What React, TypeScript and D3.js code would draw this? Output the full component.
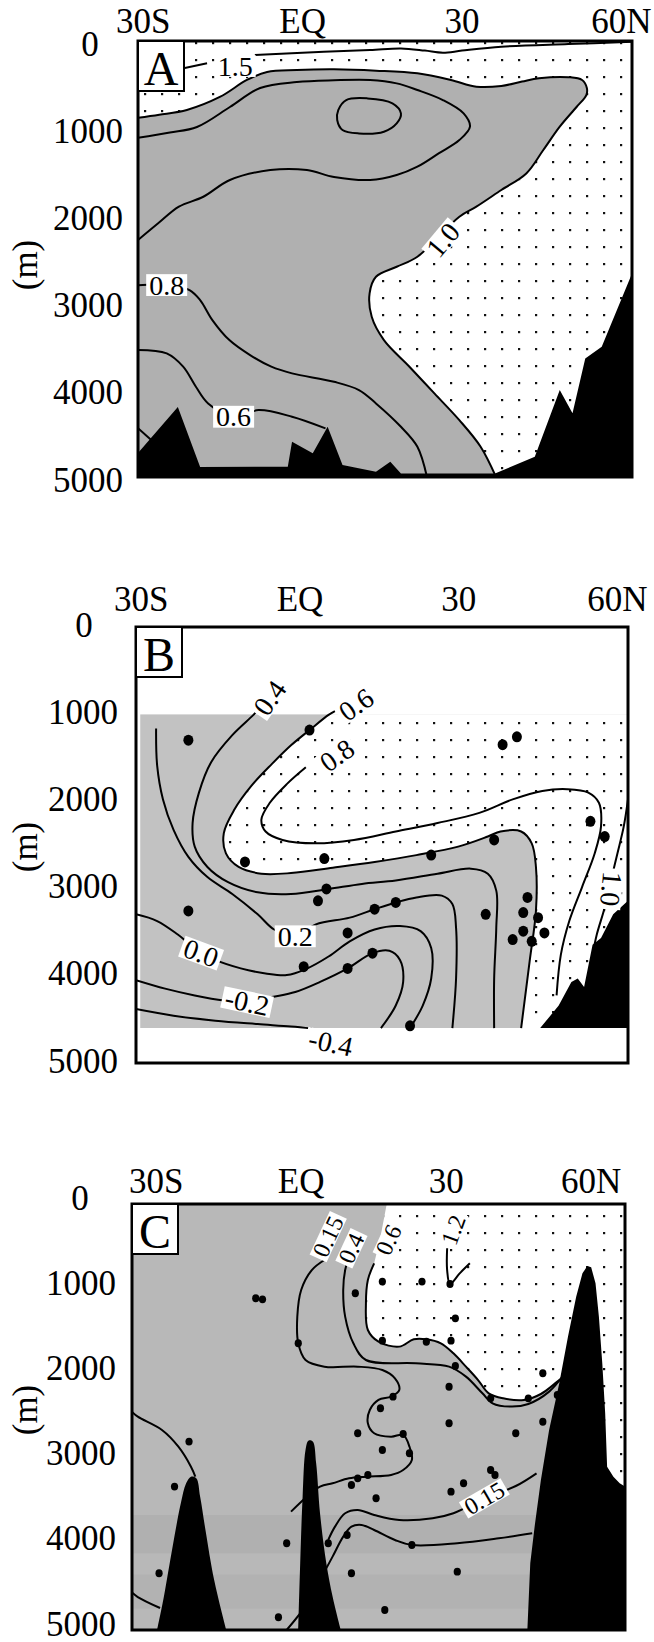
import React from "react";
import * as d3 from "d3";

type Pt = [number, number]; // [latitude (deg, south negative), depth (m)]
type Lab = { text: string; lat: number; depth: number; rot: number };

const FONT = "'Liberation Serif', 'Times New Roman', Times, serif";

// shared axes
const latTicks = [-30, 0, 30, 60];
const latTickLabels = ["30S", "EQ", "30", "60N"];
const depthTicks = [0, 1000, 2000, 3000, 4000, 5000];

// ---------------- panel A
const aIso15a: Pt[] = [[-22.2, 310], [-18, 255]];
const aIso15b: Pt[] = [[-9, 161], [3, 125], [12.7, 103], [18.5, 85], [23, 110], [26.4, 135], [30, 110], [37.4, 66], [50, 35], [62, 10]];
const aIso10: Pt[] = [
  [-31, 880], [-27, 845], [-21.8, 791], [-15.6, 642], [-10.5, 447], [-6.7, 355], [-1.1, 333], [5.9, 325],
  [13.8, 340], [21.6, 371], [27.9, 447], [32.7, 524], [37.4, 516], [41.3, 465], [44.5, 427], [50, 415],
  [52.6, 447], [53.5, 539], [53.4, 620], [51.6, 754], [48.4, 982], [45.3, 1250], [42.1, 1519], [37.4, 1709],
  [32.7, 1900], [29.5, 2015], [21.6, 2474], [17.7, 2589], [13.8, 2704], [12.6, 2894], [13, 3163], [15.3, 3430],
  [20.1, 3735], [24.8, 4041], [29.5, 4348], [33.5, 4653], [36.4, 5000],
];
const aIso09: Pt[] = [
  [-31, 1110], [-25, 1050], [-19.9, 986], [-13.7, 757], [-8, 539], [-1.1, 470], [5.9, 450], [12.7, 447],
  [17.7, 486], [21.6, 562], [26.4, 677], [30.3, 830], [31.5, 982], [29.5, 1136], [25.6, 1289], [21.6, 1441],
  [17.7, 1537], [12.7, 1594], [5.9, 1560], [0.8, 1480], [-6.1, 1480], [-13.7, 1594], [-18.7, 1786],
  [-23.3, 1900], [-27.2, 2091], [-31, 2283],
];
const aCore: Pt[] = [
  [6.7, 792], [8.2, 677], [12.2, 658], [16.9, 715], [18.5, 830], [17.7, 945], [15.3, 1040], [10.6, 1060], [7.5, 1021], [6.5, 906],
];
const aIso08: Pt[] = [
  [-31, 2800], [-25.6, 2799], [-21.3, 2856], [-19.3, 2971], [-17, 3200], [-13.8, 3430], [-9.9, 3602], [-5.9, 3735],
  [-2, 3812], [5.9, 3908], [10.6, 4003], [13.8, 4156], [18.5, 4424], [21.6, 4653], [23.4, 5000],
];
const aIso06: Pt[] = [
  [-31, 3544], [-25.6, 3583], [-22.5, 3735], [-20.1, 3965], [-17.8, 4156], [-13, 4309], [-8.3, 4233], [-2, 4309], [4.3, 4443],
];
const aIso06b: Pt[] = [[-31, 4440], [-28.4, 4580]];
const aBottom: Pt[] = [
  [-31, 4726], [-23.5, 4198], [-19.3, 4886], [-2.8, 4882], [-2, 4595], [1.9, 4729], [4.7, 4424], [7.5, 4863],
  [13.8, 4939], [16.5, 4825], [18.5, 4959], [36.2, 4959], [43.7, 4768], [48.4, 4003], [50.8, 4270], [53.2, 3640],
  [56.3, 3506], [62, 2665], [62, 5000], [-31, 5000],
];
const aLabels: Lab[] = [
  { text: "1.5", lat: -12.7, depth: 287, rot: 0 },
  { text: "1.0", lat: 26.4, depth: 2283, rot: -50 },
  { text: "0.8", lat: -25.6, depth: 2799, rot: 0 },
  { text: "0.6", lat: -13, depth: 4309, rot: 0 },
];

// ---------------- panel B
const bIso06: Pt[] = [
  [6.6, 965], [5.4, 1008], [1.8, 1182], [-1.7, 1357], [-5.3, 1570], [-9.2, 1822], [-12.4, 2093], [-14.4, 2364],
  [-14.0, 2597], [-11.6, 2752], [-7.3, 2829], [-1.7, 2822], [6.2, 2760], [14.1, 2694], [22.0, 2616], [29.9, 2519],
  [35.5, 2403], [37.9, 2345], [41.8, 2345], [43.8, 2481], [44.6, 2752], [44.6, 3256], [43.4, 3837], [41.8, 4600],
];
const bIso08: Pt[] = [
  [1.1, 1609], [-2.5, 1802], [-5.7, 2016], [-7.3, 2209], [-6.5, 2345], [-3.3, 2442], [3.0, 2481], [10.2, 2442],
  [18.1, 2345], [26.0, 2248], [33.9, 2132], [40.2, 1977], [45.8, 1880], [50.5, 1860], [54.5, 1899], [56.5, 2016],
  [56.9, 2287], [55.7, 2597], [53.3, 2985], [50.9, 3372], [49.3, 3760], [48.5, 4225],
];
const bIso10: Pt[] = [[62, 1977], [61.2, 2287], [60.0, 2597], [58.8, 2900], [57.6, 3217], [56.1, 3527], [55.3, 3760]];
const bIso04: Pt[] = [
  [-7.3, 911], [-8.8, 1008], [-12.8, 1240], [-16.8, 1550], [-19.1, 1899], [-20.3, 2248], [-19.9, 2519], [-17.5, 2752],
  [-13.6, 2926], [-8.0, 3043], [-1.7, 3062], [5.4, 3004], [11.7, 2946], [18.1, 2907], [26.0, 2829], [32.3, 2771],
  [35.5, 2829], [37.1, 3023], [37.1, 3450], [36.7, 4031], [36.7, 4600],
];
const bIso02: Pt[] = [
  [-27.2, 1163], [-27.0, 1589], [-25.9, 1977], [-23.9, 2326], [-21.1, 2636], [-17.5, 2868], [-12.8, 3062],
  [-8.0, 3295], [-4.9, 3469], [-0.9, 3547], [3.0, 3411], [9.4, 3333], [14.1, 3236], [18.1, 3159], [22.0, 3101],
  [26.8, 3081], [28.8, 3178], [29.5, 3450], [29.5, 4031], [28.8, 4600],
];
const bIso00: Pt[] = [
  [-31, 3295], [-27.0, 3372], [-23.1, 3527], [-19.9, 3682], [-16.0, 3818], [-11.2, 3915], [-6.5, 3973],
  [-2.5, 3992], [1.1, 3923], [5.4, 3779], [9.4, 3605], [14.1, 3469], [18.9, 3430], [22.8, 3488], [24.8, 3682],
  [24.8, 4031], [23.2, 4341], [20.8, 4600],
];
const bIsoM02: Pt[] = [
  [-31, 4050], [-25.5, 4147], [-19.9, 4225], [-14.4, 4283], [-10, 4302], [-5.3, 4244], [-0.9, 4186], [3.8, 4070],
  [9.0, 3915], [13.7, 3740], [16.9, 3713], [18.9, 3818], [19.5, 4070], [18.1, 4341], [15.3, 4600],
];
const bIsoM04: Pt[] = [[-31, 4380], [-23.9, 4457], [-16.0, 4515], [-8.0, 4554], [-1.7, 4582], [2.2, 4605]];
const bBottom: Pt[] = [
  [45.4, 4600], [48.9, 4341], [51.3, 4070], [52.5, 4031], [53.7, 4128], [55.3, 3643], [56.9, 3566], [59.2, 3295],
  [62, 3140], [62, 4600],
];
const bStations: Pt[] = [
  [-21.1, 1298], [1.8, 1182], [41.0, 1260], [38.3, 1349], [-10.4, 2694], [4.6, 2655], [36.7, 2442], [24.8, 2616],
  [54.9, 2229], [57.6, 2403], [5.0, 3004], [3.4, 3140], [14.1, 3236], [18.1, 3159], [35.1, 3295], [43.0, 3101],
  [42.2, 3275], [45.0, 3333], [42.2, 3488], [46.2, 3508], [40.2, 3585], [43.8, 3605], [9.0, 3508], [-21.1, 3256],
  [0.7, 3895], [9.0, 3915], [13.7, 3740], [20.8, 4574],
];
const bLabels: Lab[] = [
  { text: "0.4", lat: -5.7, depth: 814, rot: -55 },
  { text: "0.6", lat: 10.6, depth: 891, rot: -35 },
  { text: "0.8", lat: 7.0, depth: 1473, rot: -35 },
  { text: "0.2", lat: -0.9, depth: 3547, rot: 0 },
  { text: "0.0", lat: -18.7, depth: 3740, rot: 20 },
  { text: "-0.2", lat: -10, depth: 4302, rot: 12 },
  { text: "-0.4", lat: 5.8, depth: 4768, rot: 12 },
  { text: "1.0", lat: 58.8, depth: 3004, rot: 95 },
];

// ---------------- panel C
const cIso015: Pt[] = [
  [4.8, 657], [2.2, 775], [0, 1009], [-0.8, 1322], [-0.6, 1635], [0.9, 1831], [4.8, 1909], [11.7, 1909],
  [16.8, 1948], [19.4, 2046], [20.3, 2183], [18.6, 2261], [16.0, 2300], [14.2, 2418], [13.8, 2574], [15.1, 2691],
  [18.6, 2731], [21.1, 2711], [22.4, 2848], [22.9, 3004], [21.1, 3122], [18.6, 3180], [13.4, 3200], [9.9, 3220],
  [6.5, 3278], [3.9, 3317], [-2.1, 3611],
];
const cIso04: Pt[] = [
  [10.4, 540], [9.1, 775], [8.7, 1009], [9.1, 1322], [10.8, 1635], [13.4, 1831], [23.7, 1870], [30.6, 1909],
  [34.1, 2026], [37.5, 2222], [39.6, 2339], [43.5, 2378], [47.0, 2347], [51.3, 2202], [54.3, 2007],
];
const cIso06: Pt[] = [
  [15.1, 696], [13.8, 892], [13.4, 1166], [13.8, 1479], [16.0, 1616], [20.3, 1674], [23.3, 1588], [25.9, 1588],
  [28.9, 1635], [31.5, 1753], [34.1, 1909], [36.6, 2066], [38.8, 2222], [41.8, 2281], [46.1, 2300], [49.6, 2230],
  [53.0, 2085], [54.7, 2007],
];
const cIso12: Pt[] = [[30.2, 520], [30.2, 775], [30.8, 939], [32.8, 814], [34.9, 696]];
const cIso015Deep: Pt[] = [
  [48.7, 3161], [44.4, 3310], [37.9, 3454], [31.5, 3630], [27.2, 3689], [20.3, 3709], [15.1, 3650], [11.7, 3591],
  [9.1, 3630], [7.0, 3787], [5.6, 3943],
];
const cIsoDeep2: Pt[] = [
  [47.8, 3865], [40.9, 3924], [32.3, 3982], [22.9, 4002], [19.4, 3943], [15.1, 3826], [12.5, 3767], [10.4, 3787],
  [8.7, 3904], [6.5, 4139], [3.9, 4413], [1.3, 4687], [-3.0, 5000],
];
const cIsoWest: Pt[] = [[-35, 2440], [-33.8, 2496], [-28.8, 2652], [-25.4, 2848], [-22.8, 3083], [-21.9, 3200]];
const cIsoWestDeep: Pt[] = [[-35, 4560], [-33.8, 4613], [-29.2, 4742]];
const cRidgeWest: Pt[] = [
  [-29.8, 5000], [-28.4, 4608], [-26.6, 4022], [-24.9, 3513], [-23.8, 3278], [-22.8, 3200], [-21.7, 3220],
  [-20.9, 3435], [-19.8, 3826], [-18.0, 4413], [-15.5, 5000],
];
const cRidgeMid: Pt[] = [
  [-0.6, 5000], [-0.2, 4217], [0.3, 3435], [0.9, 2887], [1.5, 2778], [2.4, 2789], [3.1, 3044], [3.9, 3630],
  [5.2, 4217], [6.5, 4608], [8.2, 5000],
];
const cRidgeNorth: Pt[] = [
  [46.8, 5000], [47.4, 4217], [48.3, 3787], [49.6, 3239], [51.3, 2652], [53.4, 2105], [55.2, 1557], [56.9, 1088],
  [58.2, 814], [59.2, 728], [60.0, 743], [60.9, 931], [61.6, 1322], [62.3, 1870], [62.9, 2457], [63.3, 3083],
  [64.6, 3200], [65.9, 3278], [67, 3317], [67, 5000],
];
const cStations: Pt[] = [
  [-9.4, 1107], [-8.0, 1119], [-0.6, 1635], [11.2, 1048], [16.8, 911], [25.0, 911], [30.8, 939], [31.9, 1342],
  [16.8, 1604], [25.9, 1616], [31.0, 1604], [31.9, 1901], [50.0, 1987], [30.6, 2144], [19.0, 2261], [16.4, 2398],
  [39.2, 2281], [47.0, 2281], [53.0, 2242], [30.6, 2574], [11.7, 2691], [21.1, 2699], [44.4, 2691], [50.0, 2555],
  [16.8, 2887], [22.4, 2926], [39.2, 3122], [40.1, 3180], [13.8, 3180], [11.7, 3220], [10.4, 3298], [33.6, 3278],
  [31.0, 3376], [15.5, 3454], [-23.2, 2789], [-26.2, 3317], [9.5, 3885], [22.9, 4002], [-3.0, 3982], [5.6, 3982],
  [-29.4, 4334], [10.4, 4334], [32.3, 4315], [17.3, 4765], [-4.7, 4851],
];
const cLabels: Lab[] = [
  { text: "0.15", lat: 5.6, depth: 383, rot: -65 },
  { text: "0.4", lat: 10.4, depth: 520, rot: -65 },
  { text: "0.6", lat: 18.1, depth: 422, rot: -65 },
  { text: "1.2", lat: 31.5, depth: 305, rot: -70 },
  { text: "0.15", lat: 37.9, depth: 3454, rot: -30 },
];

type Box = { left: number; right: number; top: number; bottom: number };
type Scale = d3.ScaleLinear<number, number>;

function gens(x: Scale, y: Scale) {
  const smooth = d3.line<Pt>().x((d) => x(d[0])).y((d) => y(d[1])).curve(d3.curveCatmullRom.alpha(0.5));
  const straight = d3.line<Pt>().x((d) => x(d[0])).y((d) => y(d[1]));
  const tail = (pts: Pt[]) => pts.map((p) => `L${x(p[0])},${y(p[1])}`).join("") + "Z";
  return { smooth, straight, tail };
}

function Iso({ d }: { d: string | null }) {
  return <path d={d || ""} fill="none" stroke="black" strokeWidth={2} strokeLinejoin="round" />;
}

function CLabel({ x, y, lab, size }: { x: Scale; y: Scale; lab: Lab; size: number }) {
  const em = lab.text.split("").reduce((s, c) => s + (c === "." ? 0.25 : c === "-" ? 0.333 : 0.5), 0);
  const w = em * size + 6;
  const h = size * 0.78;
  return (
    <g transform={`translate(${x(lab.lat)},${y(lab.depth)}) rotate(${lab.rot})`}>
      <rect x={-w / 2} y={-h / 2} width={w} height={h} fill="white" />
      <text textAnchor="middle" dominantBaseline="central" fontSize={size}>
        {lab.text}
      </text>
    </g>
  );
}

function Stations({ x, y, pts, r }: { x: Scale; y: Scale; pts: Pt[]; r: number }) {
  return (
    <g>
      {pts.map((p, i) => (
        <ellipse key={i} cx={x(p[0])} cy={y(p[1])} rx={r} ry={r * 1.1} fill="black" />
      ))}
    </g>
  );
}

type PanelProps = {
  id: string;
  box: Box;
  latDomain: [number, number];
  letter: string;
  topY: number;
  zeroX: number;
  tickRight: number;
  tickDy: number;
  mY: number;
  draw: (x: Scale, y: Scale) => React.ReactNode;
};

function Panel({ id, box, latDomain, letter, topY, zeroX, tickRight, tickDy, mY, draw }: PanelProps) {
  const x = d3.scaleLinear().domain(latDomain).range([box.left, box.right]);
  const y = d3.scaleLinear().domain([0, 5000]).range([box.top, box.bottom]);
  const w = box.right - box.left;
  const h = box.bottom - box.top;
  return (
    <g>
      <clipPath id={`clip-${id}`}>
        <rect x={box.left} y={box.top} width={w} height={h} />
      </clipPath>
      <g clipPath={`url(#clip-${id})`}>{draw(x, y)}</g>
      <rect x={box.left} y={box.top} width={w} height={h} fill="none" stroke="black" strokeWidth={3} />
      <rect x={box.left} y={box.top} width={46} height={50} fill="white" stroke="black" strokeWidth={2} />
      <text x={box.left + 23} y={box.top + 27} textAnchor="middle" dominantBaseline="central" fontSize={48}>
        {letter}
      </text>
      {latTicks.map((t, i) => (
        <text key={t} x={x(t)} y={topY} textAnchor="middle" dominantBaseline="central" fontSize={35}>
          {latTickLabels[i]}
        </text>
      ))}
      {depthTicks.map((d) => (
        <text
          key={d}
          x={d === 0 ? zeroX : tickRight}
          y={y(d) + tickDy}
          textAnchor={d === 0 ? "middle" : "end"}
          dominantBaseline="central"
          fontSize={35}
        >
          {d}
        </text>
      ))}
      <text transform={`translate(25,${mY}) rotate(-90)`} textAnchor="middle" dominantBaseline="central" fontSize={35}>
        (m)
      </text>
    </g>
  );
}

export default function App() {
  return (
    <svg
      width={654}
      height={1642}
      viewBox="0 0 654 1642"
      style={{ position: "absolute", left: 0, top: 0, background: "white" }}
      fontFamily={FONT}
    >
      <defs>
        <pattern id="dots" width={17} height={17} patternUnits="userSpaceOnUse">
          <rect width={17} height={17} fill="white" />
          <rect x={8} y={8} width={2.2} height={2.2} fill="#111" />
        </pattern>
      </defs>

      <Panel
        id="a"
        box={{ left: 138, right: 632, top: 41, bottom: 477 }}
        latDomain={[-31, 62]}
        letter="A"
        topY={21}
        zeroX={90}
        tickRight={123}
        tickDy={3}
        mY={265}
        draw={(x, y) => {
          const { smooth, straight, tail } = gens(x, y);
          return (
            <g>
              <rect x={x(-31)} y={y(0)} width={x(62) - x(-31)} height={y(5000) - y(0)} fill="#b0b0b0" />
              <path d={(smooth(aIso10) || "") + tail([[62, 5000], [62, 0], [-31, 0]])} fill="url(#dots)" />
              <Iso d={smooth(aIso15a)} />
              <Iso d={smooth(aIso15b)} />
              <Iso d={smooth(aIso10)} />
              <Iso d={smooth(aIso09)} />
              <path d={d3.line<Pt>().x((d) => x(d[0])).y((d) => y(d[1])).curve(d3.curveCatmullRomClosed)(aCore) || ""} fill="none" stroke="black" strokeWidth={2} />
              <Iso d={smooth(aIso08)} />
              <Iso d={smooth(aIso06)} />
              <Iso d={smooth(aIso06b)} />
              <path d={(straight(aBottom) || "") + "Z"} fill="black" />
              {aLabels.map((l, i) => (
                <CLabel key={i} x={x} y={y} lab={l} size={28} />
              ))}
            </g>
          );
        }}
      />

      <Panel
        id="b"
        box={{ left: 136, right: 628, top: 627, bottom: 1063 }}
        latDomain={[-31, 62]}
        letter="B"
        topY={599}
        zeroX={84}
        tickRight={118}
        tickDy={-2}
        mY={847}
        draw={(x, y) => {
          const { smooth, straight } = gens(x, y);
          return (
            <g>
              <clipPath id="clip-b-data">
                <rect x={x(-30.2)} y={y(1000)} width={x(62) - x(-30.2)} height={y(4600) - y(1000)} />
              </clipPath>
              <g clipPath="url(#clip-b-data)">
                <rect x={x(-31)} y={y(1000)} width={x(62) - x(-31)} height={y(4600) - y(1000)} fill="#c2c2c2" />
                <path
                  d={(smooth(bIso06) || "") + `L${x(62)},${y(4600)}L${x(62)},${y(900)}L${x(6.6)},${y(900)}Z`}
                  fill="url(#dots)"
                />
              </g>
              <Iso d={smooth(bIso06)} />
              <Iso d={smooth(bIso08)} />
              <Iso d={smooth(bIso10)} />
              <Iso d={smooth(bIso04)} />
              <Iso d={smooth(bIso02)} />
              <Iso d={smooth(bIso00)} />
              <Iso d={smooth(bIsoM02)} />
              <Iso d={smooth(bIsoM04)} />
              <path d={(straight(bBottom) || "") + "Z"} fill="black" />
              {bLabels.map((l, i) => (
                <CLabel key={i} x={x} y={y} lab={l} size={28} />
              ))}
              <Stations x={x} y={y} pts={bStations} r={5} />
            </g>
          );
        }}
      />

      <Panel
        id="c"
        box={{ left: 132, right: 625, top: 1204, bottom: 1630 }}
        latDomain={[-35, 67]}
        letter="C"
        topY={1181}
        zeroX={80}
        tickRight={116}
        tickDy={-6}
        mY={1410}
        draw={(x, y) => {
          const { smooth, straight, tail } = gens(x, y);
          return (
            <g>
              <rect x={x(-35)} y={y(0)} width={x(67) - x(-35)} height={y(5000) - y(0)} fill="#b8b8b8" />
              <rect x={x(-35)} y={y(3650)} width={x(67) - x(-35)} height={y(4100) - y(3650)} fill="black" opacity={0.04} />
              <rect x={x(-35)} y={y(4350)} width={x(67) - x(-35)} height={y(4750) - y(4350)} fill="black" opacity={0.03} />
              <path
                d={`M${x(17.7)},${y(0)}L${x(16.3)},${y(420)}` + (smooth(cIso06) || "").replace(/^M/, "L") + tail([[60, 2007], [60, 3400], [67, 3400], [67, 0]])}
                fill="url(#dots)"
              />
              <Iso d={smooth(cIso015)} />
              <Iso d={smooth(cIso04)} />
              <Iso d={smooth(cIso06)} />
              <Iso d={smooth(cIso12)} />
              <Iso d={smooth(cIso015Deep)} />
              <Iso d={smooth(cIsoDeep2)} />
              <Iso d={smooth(cIsoWest)} />
              <Iso d={smooth(cIsoWestDeep)} />
              <path d={(smooth(cRidgeWest) || "") + "Z"} fill="black" />
              <path d={(smooth(cRidgeMid) || "") + "Z"} fill="black" />
              <path d={(straight(cRidgeNorth) || "") + "Z"} fill="black" />
              {cLabels.map((l, i) => (
                <CLabel key={i} x={x} y={y} lab={l} size={24} />
              ))}
              <Stations x={x} y={y} pts={cStations} r={3.6} />
            </g>
          );
        }}
      />
    </svg>
  );
}
